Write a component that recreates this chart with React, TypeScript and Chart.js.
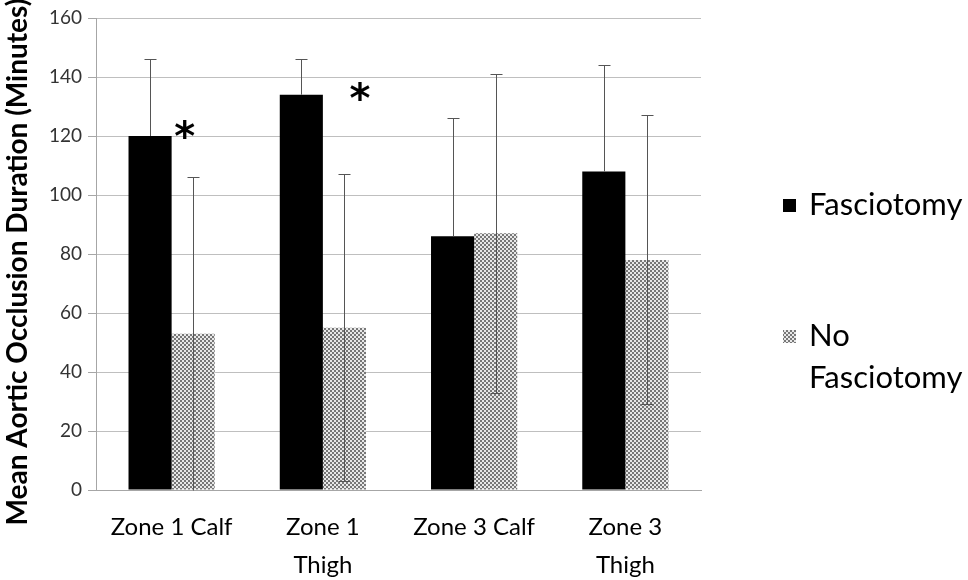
import React, { useEffect, useRef } from "react";
import { Chart, registerables } from "chart.js";

Chart.register(...registerables);

const categories: (string | string[])[] = ["Zone 1 Calf", ["Zone 1", "Thigh"], "Zone 3 Calf", ["Zone 3", "Thigh"]];
const fasciotomy = [120, 134, 86, 108];
const fasciotomyUpper = [146, 146, 126, 144];
const noFasciotomy = [53, 55, 87, 78];
const noFasciotomyUpper = [106, 107, 141, 127];
const noFasciotomyLower = [0, 3, 33, 29];
const significant = [true, true, false, false];
const asteriskLevel = [122, 135, 0, 0];
const yTicks = [0, 20, 40, 60, 80, 100, 120, 140, 160];
const yTitle = "Mean Aortic Occlusion Duration (Minutes)";

const FONT = "Lato, 'Liberation Sans', sans-serif";

function makePattern(): CanvasPattern | string {
  const c = document.createElement("canvas");
  c.width = 4;
  c.height = 4;
  const g = c.getContext("2d");
  if (!g) return "#aaa";
  g.fillStyle = "#e8e8e8";
  g.fillRect(0, 0, 4, 4);
  g.fillStyle = "#777";
  g.fillRect(0, 0, 2, 2);
  g.fillRect(2, 2, 2, 2);
  const p = g.createPattern(c, "repeat");
  return p || "#aaa";
}

export default function App() {
  const ref = useRef<HTMLCanvasElement | null>(null);
  useEffect(() => {
    if (!ref.current) return;
    const pattern = makePattern();

    const extras = {
      id: "extras",
      afterDatasetsDraw(chart: any) {
        const ctx = chart.ctx;
        const y = chart.scales.y;
        const metaF = chart.getDatasetMeta(0);
        const metaN = chart.getDatasetMeta(1);
        const ca = chart.chartArea;
        ctx.save();
        ctx.strokeStyle = "#555";
        ctx.lineWidth = 1;
        const cap = 6;
        metaF.data.forEach((bar: any, i: number) => {
          const x = Math.round(bar.x) + 0.5;
          const yt = Math.round(y.getPixelForValue(fasciotomyUpper[i])) + 0.5;
          const yb = y.getPixelForValue(fasciotomy[i]);
          ctx.beginPath();
          ctx.moveTo(x, yb);
          ctx.lineTo(x, yt);
          ctx.moveTo(x - cap, yt);
          ctx.lineTo(x + cap, yt);
          ctx.stroke();
        });
        metaN.data.forEach((bar: any, i: number) => {
          const x = Math.round(bar.x) + 0.5;
          const yt = Math.round(y.getPixelForValue(noFasciotomyUpper[i])) + 0.5;
          const yb = Math.round(y.getPixelForValue(noFasciotomyLower[i])) + 0.5;
          ctx.beginPath();
          ctx.moveTo(x, yb);
          ctx.lineTo(x, yt);
          ctx.moveTo(x - cap, yt);
          ctx.lineTo(x + cap, yt);
          if (noFasciotomyLower[i] > 0) {
            ctx.moveTo(x - cap, yb);
            ctx.lineTo(x + cap, yb);
          }
          ctx.stroke();
        });
        // asterisks
        ctx.fillStyle = "#000";
        ctx.font = "bold 40px 'DejaVu Sans', sans-serif";
        ctx.textAlign = "center";
        ctx.textBaseline = "middle";
        const offs = [13, 37, 0, 0];
        significant.forEach((s, i) => {
          if (!s) return;
          const bar = metaF.data[i] as any;
          const right = bar.x + bar.width / 2;
          ctx.fillText("*", right + offs[i], y.getPixelForValue(asteriskLevel[i]) + 10);
        });
        // y title
        ctx.save();
        ctx.translate(18, (ca.top + ca.bottom) / 2 + 8);
        ctx.rotate(-Math.PI / 2);
        ctx.font = `bold 28px ${FONT}`;
        ctx.textAlign = "center";
        ctx.textBaseline = "middle";
        ctx.fillText(yTitle, 0, 0);
        ctx.restore();
        // legend
        const lx = ca.right + 82;
        ctx.font = `31px ${FONT}`;
        ctx.textAlign = "left";
        ctx.textBaseline = "middle";
        ctx.fillStyle = "#000";
        ctx.fillRect(lx, 199, 13, 13);
        ctx.fillText("Fasciotomy", lx + 26, 205);
        ctx.fillStyle = pattern as any;
        ctx.fillRect(lx, 330, 13, 13);
        ctx.fillStyle = "#000";
        ctx.fillText("No", lx + 26, 336);
        ctx.fillText("Fasciotomy", lx + 26, 378);
        ctx.restore();
      },
    };

    const chart = new Chart(ref.current, {
      type: "bar",
      data: {
        labels: categories as any,
        datasets: [
          {
            label: "Fasciotomy",
            data: fasciotomy,
            backgroundColor: "#000",
            barPercentage: 1,
            categoryPercentage: 0.57,
          },
          {
            label: "No Fasciotomy",
            data: noFasciotomy,
            backgroundColor: pattern as any,
            barPercentage: 1,
            categoryPercentage: 0.57,
          },
        ],
      },
      options: {
        animation: false,
        responsive: false,
        maintainAspectRatio: false,
        layout: { padding: { top: 18, right: 267, left: 0, bottom: 0 } },
        plugins: { legend: { display: false }, tooltip: { enabled: false } },
        scales: {
          x: {
            grid: { display: false, drawTicks: false },
            border: { display: true, color: "#a6a6a6", width: 1 },
            ticks: {
              color: "#000",
              font: { family: FONT, size: 24, lineHeight: 1.6 },
              padding: 18,
              maxRotation: 0,
              autoSkip: false,
            },
            afterFit: (s: any) => {
              s.height = 90;
            },
          },
          y: {
            min: 0,
            max: 160,
            afterBuildTicks: (s: any) => {
              s.ticks = yTicks.map((v) => ({ value: v }));
            },
            grid: { color: "#bfbfbf", lineWidth: 1, tickLength: 8, drawTicks: true, tickColor: "#a6a6a6" },
            border: { display: true, color: "#a6a6a6", width: 1 },
            ticks: { color: "#333", font: { family: FONT, size: 19 }, padding: 6 },
            title: { display: false },
            afterFit: (s: any) => {
              s.width = 96;
            },
          },
        },
      },
      plugins: [extras],
    });
    return () => chart.destroy();
  }, []);

  return (
    <div style={{ position: "absolute", left: 0, top: 0, width: 968, height: 580, background: "#fff" }}>
      <canvas ref={ref} width={968} height={580} style={{ width: 968, height: 580 }} />
    </div>
  );
}
